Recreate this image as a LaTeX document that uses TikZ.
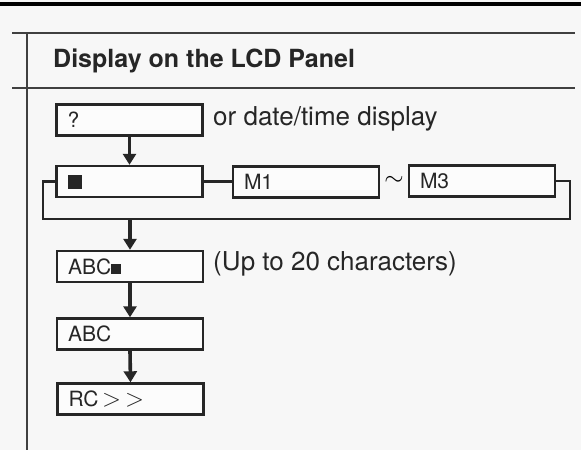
\documentclass[tikz,border=0pt]{standalone}
\usepackage{fontspec}
\setmainfont{TeX Gyre Heros}
\usetikzlibrary{arrows.meta}

\begin{document}
\begin{tikzpicture}
[x=1pt,y=-1pt,
>={Triangle[width=13pt,length=11pt]},
lcdbox/.style={draw=black!85, line width=2.4pt, fill=white!60!black!3,
  minimum height=31pt, text width=124pt, inner xsep=11pt, align=left,
  text=black!85, font=\fontsize{21}{21}\selectfont},
flow/.style={->, line width=3.6pt, draw=black!85},
link/.style={line width=2.4pt, draw=black!85},
rule/.style={line width=1.8pt, draw=black!75},
note/.style={anchor=base west, inner sep=0pt, text=black!85,
  font=\fontsize{26}{26}\selectfont}]
  \useasboundingbox [fill=black!3] (0,0) rectangle (581,450);
  \fill [black] (0,2) rectangle (581,6);
  \draw [rule] (12,33) -- (575,33);
  \draw [rule] (12,88) -- (575,88);
  \draw [rule] (27,33) -- (27,450);
  \node [anchor=base west, inner sep=0pt, text=black!85,
    font=\fontsize{25}{25}\selectfont\bfseries] (title) at (53,67)
    {Display on the LCD Panel};
  \node [lcdbox] (ask) at (129.5,120) {?};
  \node [note] (datetime) at (213,125) {or date/time display};
  \node [lcdbox] (cursor) at (129.5,181.5) {\rule{14pt}{14pt}};
  \node [lcdbox] (mone) at (306,182) {M1};
  \node [inner sep=0pt, font=\fontsize{28}{28}\selectfont] (tilde)
    at (394,181) {$\sim$};
  \node [lcdbox] (mthree) at (482,181) {M3};
  \node [lcdbox] (abcin) at (130,266.5) {ABC\rule{10pt}{10pt}};
  \node [note] (upto) at (213,270) {(Up to 20 characters)};
  \node [lcdbox] (abc) at (130,334) {ABC};
  \node [lcdbox] (rc) at (130.5,399) {RC\,{\fontsize{25}{25}\selectfont$>$\,$>$}};
  \coordinate (loopl) at (43,219);
  \coordinate (loopr) at (570,219);
  \draw [flow] (ask.south -| cursor.north) -- (cursor.north);
  \draw [link] (cursor.east) -- (mone.west |- cursor.east);
  \draw [link] (cursor.west) -| (loopl) -- (loopr) |- (mthree.east);
  \draw [flow] (loopl -| abcin.north) -- (abcin.north);
  \draw [flow] (abcin.south) -- (abc.north);
  \draw [flow] (abc.south) -- (rc.north);
\end{tikzpicture}
\end{document}
